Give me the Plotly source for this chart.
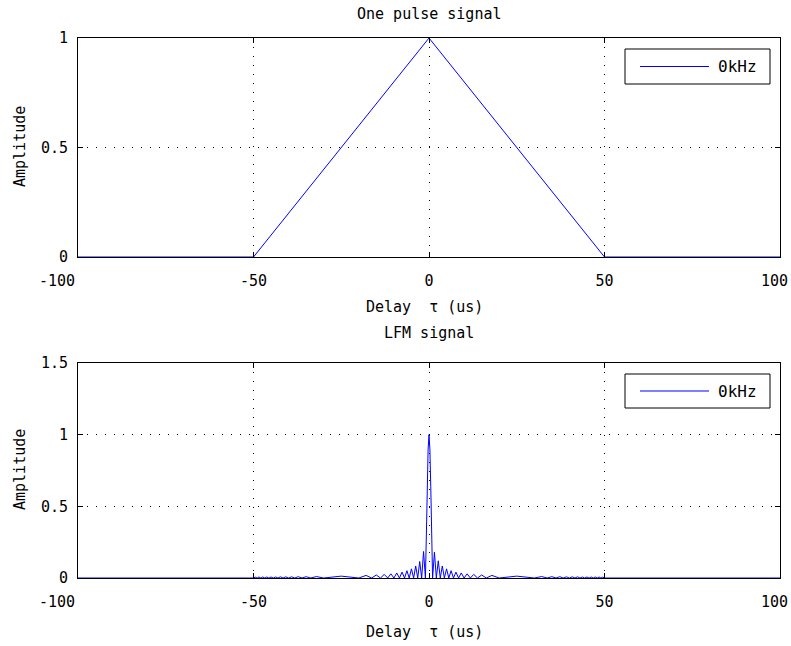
import plotly.graph_objects as go

# ---------------- data ----------------
series_name = "0kHz"

pulse_tau = [-100, -50, 0, 50, 100]
pulse_amp = [0.0, 0.0, 1.0, 0.0, 0.0]

lfm_tau = [
    -100, -50, -49.5, -48.98, -48.45, -47.91, -47.36, -46.79, -46.21, -45.62, -45.0,
    -44.36, -43.71, -43.03, -42.32, -41.58, -40.81, -40.0, -39.14, -38.23, -37.25,
    -36.18, -35.0, -33.66, -32.07, -30.0, -25.0, -20.0, -17.93, -16.34, -15.0,
    -13.82, -12.75, -11.77, -10.86, -10.0, -9.19, -8.42, -7.68, -6.97, -6.29,
    -5.64, -5.0, -4.38, -3.79, -3.21, -2.64, -2.09, -1.55, -1.02, -0.75, -0.5,
    -0.25, 0.0,
    0.25, 0.5, 0.75, 1.02, 1.55, 2.09, 2.64, 3.21, 3.79, 4.38, 5.0, 5.64, 6.29,
    6.97, 7.68, 8.42, 9.19, 10.0, 10.86, 11.77, 12.75, 13.82, 15.0, 16.34, 17.93,
    20.0, 25.0, 30.0, 32.07, 33.66, 35.0, 36.18, 37.25, 38.23, 39.14, 40.0, 40.81,
    41.58, 42.32, 43.03, 43.71, 44.36, 45.0, 45.62, 46.21, 46.79, 47.36, 47.91,
    48.45, 48.98, 49.5, 50, 100,
]
lfm_amp = [
    0.0, 0.0, 0.006, 0.0, 0.007, 0.0, 0.007, 0.0, 0.007, 0.0, 0.007,
    0.0, 0.007, 0.0, 0.008, 0.0, 0.008, 0.0, 0.008, 0.0, 0.009,
    0.0, 0.009, 0.0, 0.010, 0.0, 0.013, 0.0, 0.018, 0.0, 0.021,
    0.0, 0.025, 0.0, 0.029, 0.0, 0.035, 0.0, 0.041, 0.0, 0.051,
    0.0, 0.064, 0.0, 0.084, 0.0, 0.115, 0.0, 0.185, 0.0, 0.30, 0.64,
    0.90, 1.0,
    0.90, 0.64, 0.30, 0.0, 0.18, 0.0, 0.12, 0.0, 0.084, 0.0, 0.064, 0.0, 0.051,
    0.0, 0.041, 0.0, 0.035, 0.0, 0.029, 0.0, 0.025, 0.0, 0.021, 0.0, 0.018,
    0.0, 0.013, 0.0, 0.010, 0.0, 0.009, 0.0, 0.009, 0.0, 0.008, 0.0, 0.008,
    0.0, 0.008, 0.0, 0.007, 0.0, 0.007, 0.0, 0.007, 0.0, 0.007, 0.0,
    0.007, 0.0, 0.006, 0.0, 0.0,
]

x_ticks = [-100, -50, 0, 50, 100]
x_ticktext = ["-100", "-50", "0", "50", "100"]
y1_ticks = [0, 0.5, 1]
y1_ticktext = ["0", "0.5", "1"]
y2_ticks = [0, 0.5, 1, 1.5]
y2_ticktext = ["0", "0.5", "1", "1.5"]

title_top = "One pulse signal"
title_bottom = "LFM signal"
x_title = "Delay\u00a0\u00a0τ\u00a0(us)"
y_title = "Amplitude"

# ---------------- figure ----------------
W, H = 791, 646
FONT = "DejaVu Sans Mono"
BLUE = "#0000FF"

def px_x(p):
    return p / W

def px_y(p):
    return 1 - p / H

fig = go.Figure()
fig.add_trace(go.Scatter(x=pulse_tau, y=pulse_amp, mode="lines", name=series_name,
                         line=dict(color=BLUE, width=1), showlegend=False,
                         xaxis="x", yaxis="y"))
fig.add_trace(go.Scatter(x=lfm_tau, y=lfm_amp, mode="lines", name=series_name,
                         line=dict(color=BLUE, width=1), showlegend=False,
                         xaxis="x2", yaxis="y2"))

# the end tick labels are shifted inward (as in the reference); the inner ones
# are drawn by the axis itself
inner_ticktext = ["" if v in (x_ticks[0], x_ticks[-1]) else t
                  for v, t in zip(x_ticks, x_ticktext)]

xdom = [px_x(78), px_x(780)]
ax_common = dict(showline=True, linecolor="black", linewidth=1, mirror="ticks",
                 ticks="inside", ticklen=5, tickcolor="black", tickwidth=1,
                 showgrid=True, gridcolor="black", griddash="1px,8px", gridwidth=1,
                 zeroline=False, automargin=False, ticklabeloverflow="allow",
                 tickfont=dict(family=FONT, size=15, color="black"))
xax = dict(ticklabelstandoff=10, **ax_common)
yax = dict(ticklabelstandoff=6, **ax_common)

fig.update_layout(
    width=W, height=H,
    margin=dict(l=0, r=0, t=0, b=0),
    paper_bgcolor="white", plot_bgcolor="white",
    font=dict(family=FONT, size=14, color="black"),
    xaxis=dict(domain=xdom, range=[-100, 100], tickvals=x_ticks, ticktext=inner_ticktext,
               anchor="y", **xax),
    yaxis=dict(domain=[px_y(257), px_y(38)], range=[0, 1], tickvals=y1_ticks,
               ticktext=y1_ticktext, anchor="x", **yax),
    xaxis2=dict(domain=xdom, range=[-100, 100], tickvals=x_ticks, ticktext=inner_ticktext,
                anchor="y2", **xax),
    yaxis2=dict(domain=[px_y(578), px_y(363)], range=[0, 1.5], tickvals=y2_ticks,
                ticktext=y2_ticktext, anchor="x2", **yax),
)

annotations = []
for ax_name, ty in [("x", 281), ("x2", 602)]:
    annotations.append(dict(text=x_ticktext[0], x=x_ticks[0], xref=ax_name, xshift=-1,
                            y=px_y(ty), yref="paper", showarrow=False,
                            xanchor="right", yanchor="middle",
                            font=dict(family=FONT, size=15)))
    annotations.append(dict(text=x_ticktext[-1], x=x_ticks[-1], xref=ax_name, xshift=10,
                            y=px_y(ty), yref="paper", showarrow=False,
                            xanchor="right", yanchor="middle",
                            font=dict(family=FONT, size=15)))

for ty, txt in [(14, title_top), (333, title_bottom)]:
    annotations.append(dict(text=txt, x=px_x(429), y=px_y(ty), xref="paper", yref="paper",
                            showarrow=False, xanchor="center", yanchor="middle",
                            font=dict(family=FONT, size=15)))
for ty in [307, 632]:
    annotations.append(dict(text=x_title, x=px_x(425), y=px_y(ty), xref="paper", yref="paper",
                            showarrow=False, xanchor="center", yanchor="middle",
                            font=dict(family=FONT, size=15)))
for ty in [147, 470]:
    annotations.append(dict(text=y_title, x=px_x(20), y=px_y(ty), xref="paper", yref="paper",
                            showarrow=False, xanchor="center", yanchor="middle", textangle=-90,
                            font=dict(family=FONT, size=15)))

# legends (drawn as boxes)
shapes = []
for top, bot in [(49, 84), (374, 408)]:
    shapes.append(dict(type="rect", xref="paper", yref="paper",
                       x0=px_x(625), x1=px_x(770), y0=px_y(bot), y1=px_y(top),
                       line=dict(color="black", width=1), fillcolor="white", layer="above"))
    mid = (top + bot) / 2
    shapes.append(dict(type="line", xref="paper", yref="paper",
                       x0=px_x(640), x1=px_x(709), y0=px_y(mid), y1=px_y(mid),
                       line=dict(color=BLUE, width=1), layer="above"))
    annotations.append(dict(text=series_name, x=px_x(716), y=px_y(mid), xref="paper",
                            yref="paper", showarrow=False, xanchor="left", yanchor="middle",
                            font=dict(family=FONT, size=16)))

fig.update_layout(annotations=annotations, shapes=shapes)
fig.write_html("out.html")
